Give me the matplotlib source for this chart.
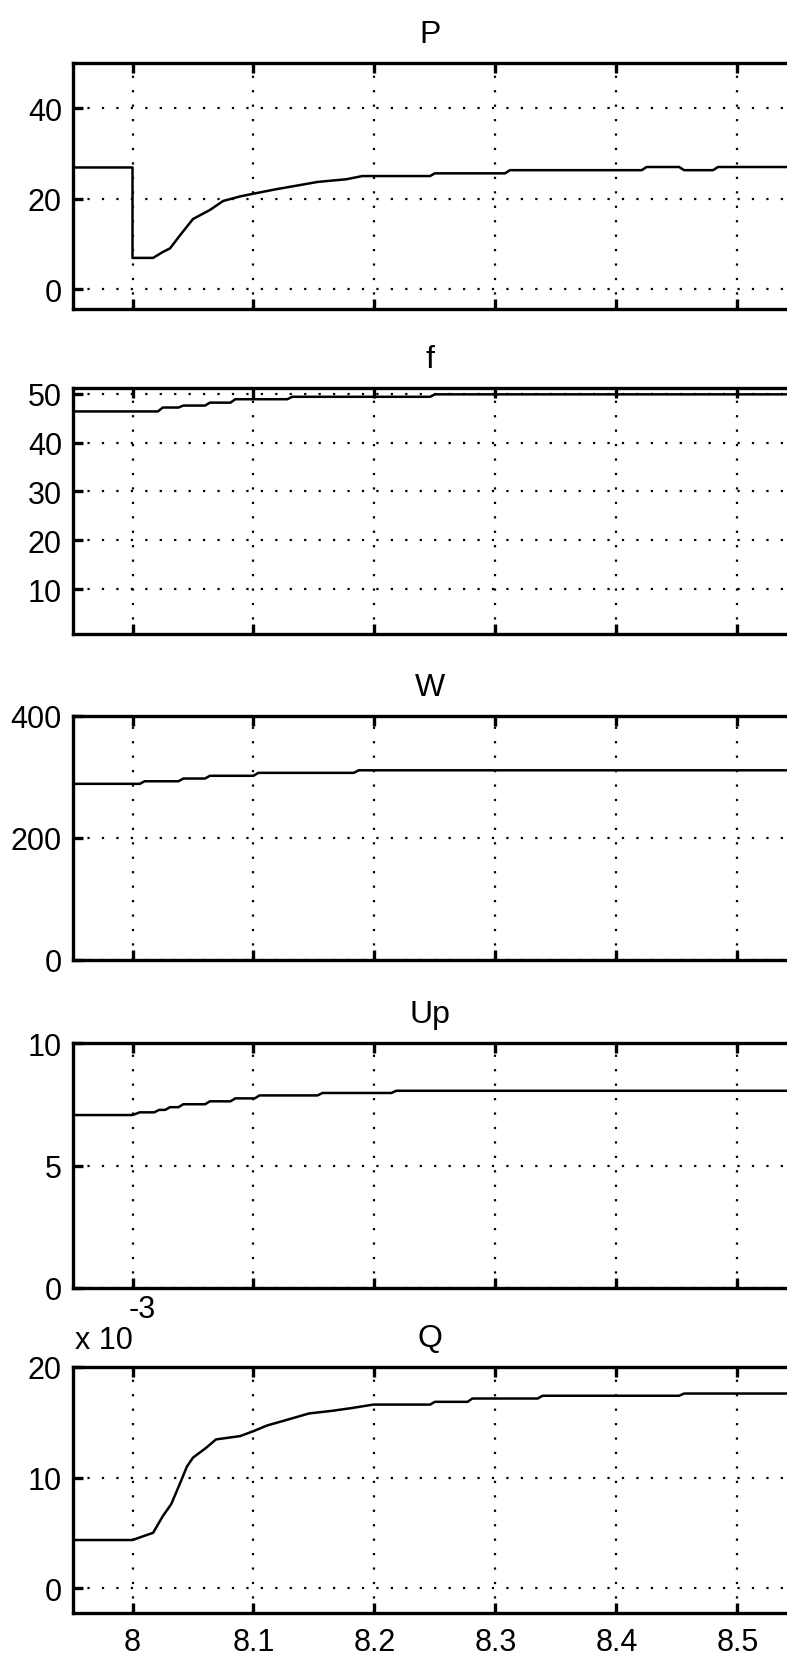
import matplotlib
matplotlib.use("Agg")
import matplotlib.pyplot as plt

plt.rcParams['font.family'] = ['Liberation Sans Narrow', 'Liberation Sans', 'DejaVu Sans']

# --- data ---
titles = ["P", "f", "W", "Up", "Q"]

P_t = [7.951, 8.000, 8.000, 8.017, 8.025, 8.031, 8.039, 8.050, 8.064, 8.075, 8.089, 8.100,
       8.119, 8.134, 8.153, 8.177, 8.190, 8.246, 8.250, 8.308, 8.312, 8.421, 8.425, 8.452,
       8.456, 8.480, 8.484, 8.545]
P_v = [26.9, 26.9, 6.9, 6.9, 8.2, 9.0, 11.8, 15.5, 17.5, 19.5, 20.5, 21.1,
       22.1, 22.8, 23.7, 24.3, 25.0, 25.0, 25.6, 25.6, 26.3, 26.3, 27.0, 27.0,
       26.3, 26.3, 27.0, 27.0]

f_t = [7.951, 8.021, 8.025, 8.038, 8.042, 8.060, 8.064, 8.081, 8.085, 8.128, 8.132, 8.246, 8.250, 8.545]
f_v = [46.4, 46.4, 47.2, 47.2, 47.6, 47.6, 48.2, 48.2, 48.9, 48.9, 49.4, 49.4, 49.9, 49.9]

W_t = [7.951, 8.006, 8.010, 8.038, 8.042, 8.060, 8.064, 8.100, 8.104, 8.183, 8.187, 8.545]
W_v = [288.8, 288.8, 293.0, 293.0, 297.5, 297.5, 302.0, 302.0, 306.8, 306.8, 311.0, 311.0]

Up_t = [7.951, 8.000, 8.006, 8.018, 8.022, 8.027, 8.031, 8.038, 8.042, 8.060, 8.064, 8.081,
        8.085, 8.101, 8.105, 8.153, 8.157, 8.214, 8.218, 8.545]
Up_v = [7.06, 7.06, 7.17, 7.17, 7.27, 7.27, 7.38, 7.38, 7.50, 7.50, 7.62, 7.62,
        7.74, 7.74, 7.86, 7.86, 7.96, 7.96, 8.05, 8.05]

# Q in units of 1e-3
Q_t = [7.951, 8.000, 8.009, 8.017, 8.025, 8.032, 8.039, 8.045, 8.050, 8.061, 8.069, 8.089,
       8.100, 8.111, 8.127, 8.146, 8.166, 8.182, 8.199, 8.246, 8.250, 8.277, 8.281, 8.335,
       8.339, 8.452, 8.456, 8.545]
Q_v = [4.35, 4.35, 4.7, 5.0, 6.5, 7.6, 9.4, 11.0, 11.8, 12.7, 13.45, 13.75,
       14.2, 14.7, 15.2, 15.8, 16.05, 16.3, 16.6, 16.6, 16.85, 16.85, 17.15, 17.15,
       17.4, 17.4, 17.6, 17.6]

x_ticks = [8.0, 8.1, 8.2, 8.3, 8.4, 8.5]
x_ticklabels = ["8", "8.1", "8.2", "8.3", "8.4", "8.5"]

y_ticks = [[0, 20, 40], [10, 20, 30, 40, 50], [0, 200, 400], [0, 5, 10], [0, 10, 20]]
y_lims = [(-4.4, 50.0), (0.8, 51.2), (0, 400), (0, 10), (-2.25, 20)]

series = [(P_t, P_v), (f_t, f_v), (W_t, W_v), (Up_t, Up_v), (Q_t, Q_v)]

# panel top/bottom in pixels of a 787x1656 figure
W_px, H_px = 787, 1656
panels_px = [(64, 310), (389, 635), (717, 961), (1044, 1289), (1368, 1614)]
left_px = 73

fig = plt.figure(figsize=(W_px / 100, H_px / 100), dpi=100)

for i, (top, bot) in enumerate(panels_px):
    ax = fig.add_axes([left_px / W_px, 1 - bot / H_px, 1 - left_px / W_px, (bot - top) / H_px])
    t, v = series[i]
    ax.plot(t, v, color='black', linewidth=1.8)
    ax.set_xlim(7.9508, 8.5411)
    ax.set_ylim(*y_lims[i])
    ax.set_xticks(x_ticks)
    ax.set_yticks(y_ticks[i])
    if i == 4:
        ax.set_xticklabels(x_ticklabels)
    else:
        ax.set_xticklabels([])
    ax.grid(True, color='black', linewidth=1.6, linestyle=(0, (1, 5.5)))
    ax.tick_params(direction='in', length=7, width=2.4, labelsize=22, top=True, right=False,
                   pad=8)
    ax.tick_params(axis='x', pad=10)
    for s in ['left', 'top', 'bottom']:
        ax.spines[s].set_linewidth(2.4)
    ax.spines['right'].set_visible(False)
    ax.set_title(titles[i], fontsize=23, pad=15)

# exponent label for Q
fig.text(75 / W_px, 1 - 1349 / H_px, "x 10", fontsize=22, ha='left', va='baseline')
fig.text(129 / W_px, 1 - 1318 / H_px, "-3", fontsize=22, ha='left', va='baseline')

fig.savefig("out.png", dpi=100)
